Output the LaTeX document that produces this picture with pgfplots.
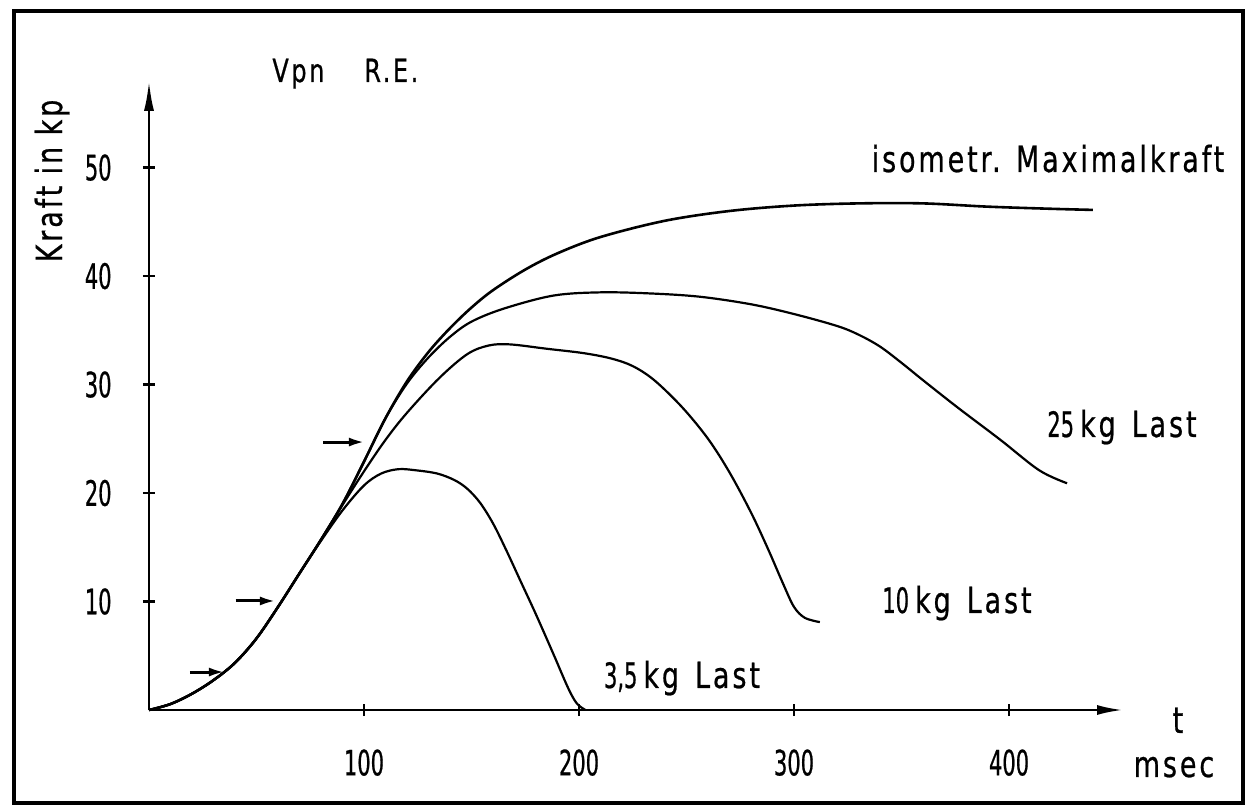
\documentclass[border=0pt]{standalone}
\usepackage{pgfplots}
\pgfplotsset{compat=1.18}
\usetikzlibrary{arrows.meta}
\usepackage{fontspec}
\setmainfont[FakeStretch=0.75,LetterSpace=8,FakeBold=0.6]{DejaVu Sans}
\newfontfamily\numfont[FakeStretch=0.6,FakeBold=0.6]{DejaVu Sans}
\newcommand\lab{\fontsize{18}{20}\selectfont}
\newcommand\numlab{\numfont\fontsize{17.5}{20}\selectfont}

\begin{document}
\begin{tikzpicture}[x=1pt,y=1pt]
\path[fill=white] (0,0) rectangle (625,405);
\draw[line width=1.6pt] (7,3.5) rectangle (621.5,399.5);
\begin{axis}[
  at={(74.5pt,50pt)}, anchor=south west,
  scale only axis, width=487pt, height=314.6pt,
  xmin=0, xmax=453, ymin=0, ymax=58,
  axis lines=left,
  x axis line style={line width=1.3pt,-{Latex[length=13pt,width=5pt]}},
  y axis line style={line width=1.3pt,-{Latex[length=15pt,width=5pt]}},
  xtick={100,200,300,400}, ytick={10,20,30,40,50},
  tick align=center, major tick length=6pt,
  tick style={line width=1.1pt,black},
  /pgf/number format/assume math mode=true,
  xticklabel style={font=\numlab, anchor=north, inner sep=0pt, yshift=-16.5pt},
  yticklabel style={font=\numlab, anchor=east, inner sep=0pt, xshift=-15.5pt},
  clip=false,
]
% isometrische Maximalkraft
\addplot[line width=1.3pt, smooth, tension=0.55] coordinates {
(0,0) (10,0.55) (20,1.5) (30,2.75) (40,4.35) (50,6.6) (60,9.5) (70,12.6) (80,15.7)
(90,19.0) (100,22.9) (110,26.9) (120,30.3) (130,33.0) (140,35.2) (150,37.1)
(160,38.7) (175,40.6) (190,42.1) (210,43.6) (240,45.1) (270,46.0) (300,46.5)
(330,46.7) (360,46.7) (390,46.4) (420,46.2) (439,46.1)};
% 25 kg Last
\addplot[line width=1.1pt, smooth, tension=0.55] coordinates {
(0,0) (10,0.55) (20,1.5) (30,2.75) (40,4.35) (50,6.6) (60,9.5) (70,12.6) (80,15.7)
(90,19.0) (100,22.9) (110,26.9) (120,30.1) (130,32.5) (140,34.4) (150,35.8)
(165,37.0) (188,38.2) (210,38.5) (233,38.4) (256,38.1) (280,37.4) (300,36.5)
(320,35.4) (330,34.6) (340,33.5) (350,32.0) (360,30.4) (376,27.9) (396,24.9)
(414,22.1) (427,20.9)};
% 10 kg Last
\addplot[line width=1.1pt, smooth, tension=0.55] coordinates {
(0,0) (10,0.55) (20,1.5) (30,2.75) (40,4.35) (50,6.6) (60,9.5) (70,12.6) (80,15.7)
(90,18.9) (100,22.0) (110,24.9) (120,27.4) (135,30.6) (148,32.8) (158,33.6)
(168,33.7) (185,33.3) (202,32.9) (215,32.4) (225,31.7) (235,30.4) (248,27.9)
(260,25.0) (270,21.9) (280,18.2) (288,14.8) (295,11.6) (300,9.5) (305,8.5) (312,8.1)};
% 3,5 kg Last
\addplot[line width=1.1pt, smooth, tension=0.55] coordinates {
(0,0) (10,0.55) (20,1.5) (30,2.75) (40,4.35) (50,6.6) (60,9.5) (70,12.6) (80,15.6)
(90,18.4) (100,20.7) (108,21.8) (116,22.2) (124,22.1) (134,21.8) (142,21.2)
(148,20.4) (154,19.1) (160,17.2) (166,14.8) (173,11.8) (180,8.8) (188,5.2)
(195,2.0) (199,0.6) (203,0)};
% Pfeile
\addplot[line width=1.5pt, -{Latex[length=8pt,width=4.5pt]}] coordinates {(19,3.5) (35.3,3.5)};
\addplot[line width=1.5pt, -{Latex[length=8pt,width=4.5pt]}] coordinates {(40.3,10.05) (59,10.05)};
\addplot[line width=1.5pt, -{Latex[length=8pt,width=4.5pt]}] coordinates {(81,24.7) (100.4,24.7)};
\end{axis}
\node[anchor=base, font=\lab] at (524,319) {isometr. Maximalkraft};
\node[anchor=base, font=\lab] at (561,186.5) {{\numlab 25}\,kg\hspace{8pt}Last};
\node[anchor=base, font=\lab] at (478.5,98.5) {{\numlab 10}\,kg\hspace{8pt}Last};
\node[anchor=base, font=\lab] at (341,61) {{\numlab 3,5}\,kg\hspace{8pt}Last};
\node[anchor=base west, inner sep=0pt, font=\fontsize{16}{18}\selectfont] at (136,364) {Vpn\hspace{20pt}R.E.};
\node[anchor=base, rotate=90, font=\lab] at (31,314.5) {Kraft in kp};
\node[anchor=base, font=\lab] at (589,38.5) {t};
\node[anchor=base, font=\lab] at (587,16.5) {msec};
\end{tikzpicture}
\end{document}
